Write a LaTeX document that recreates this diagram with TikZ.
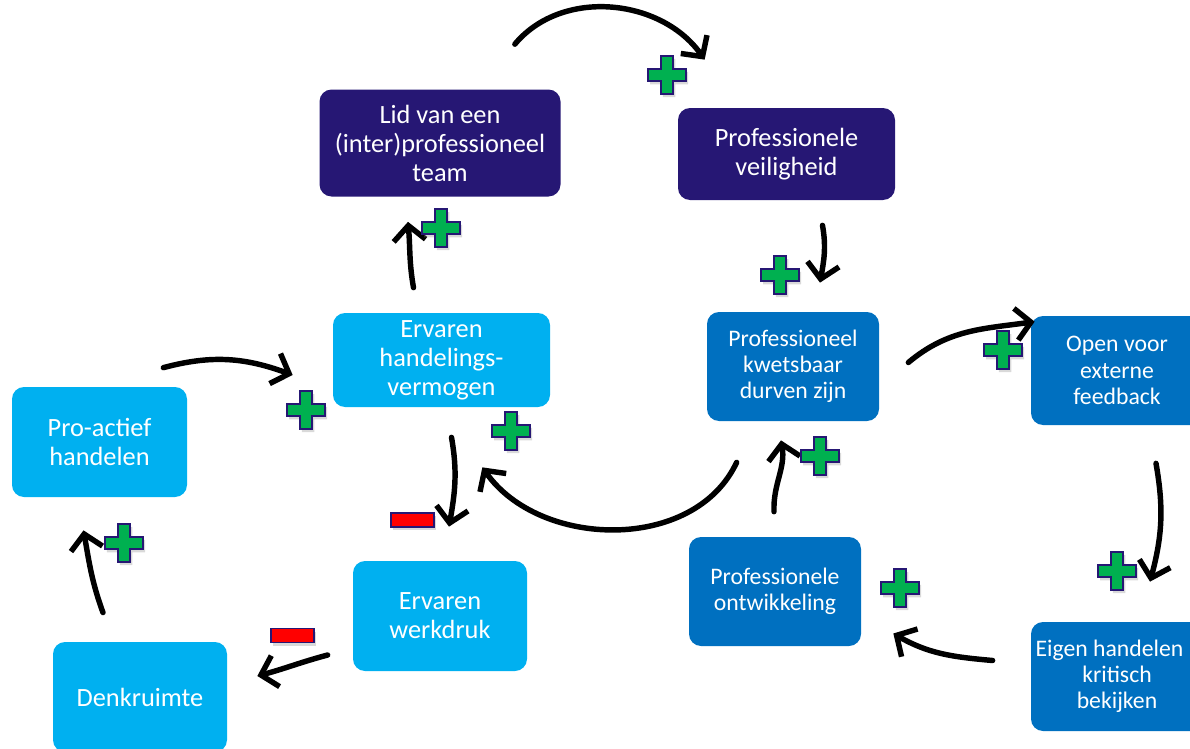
\documentclass[tikz,border=0pt]{standalone}
\usepackage{fontspec}
\setmainfont{Carlito}
\usetikzlibrary{arrows.meta,shadows}
\definecolor{donker}{RGB}{38,23,116}
\definecolor{licht}{RGB}{0,176,240}
\definecolor{midden}{RGB}{0,112,192}
\definecolor{groen}{RGB}{0,176,80}
\newcommand{\groot}{\fontsize{15}{16.5}\selectfont}
\newcommand{\klein}{\fontsize{13.5}{14.9}\selectfont}
\tikzset{
  plusje/.pic={
    \draw[fill=groen,draw=donker,line width=0.9pt,
      drop shadow={opacity=0.3,shadow xshift=0.04,shadow yshift=-0.06}]
      (-0.125,-0.38) -- (0.125,-0.38) -- (0.125,-0.125) -- (0.38,-0.125)
      -- (0.38,0.125) -- (0.125,0.125) -- (0.125,0.38) -- (-0.125,0.38)
      -- (-0.125,0.125) -- (-0.38,0.125) -- (-0.38,-0.125) -- (-0.125,-0.125) -- cycle;
  },
  minnetje/.pic={
    \draw[fill=red,draw=donker,line width=0.9pt,
      drop shadow={opacity=0.3,shadow xshift=0.04,shadow yshift=-0.06}]
      (-0.43,-0.14) rectangle (0.43,0.14);
  }
}

\begin{document}
\begin{tikzpicture}
  \useasboundingbox (0,0) rectangle (23.8,-14.98);
  \clip (0,0) rectangle (23.8,-14.98);

  \begin{scope}[every node/.style={rounded corners=0.24cm,text=white,align=center,inner sep=0pt}]
    \node[fill=donker,minimum width=4.82cm,minimum height=2.14cm,font=\groot]
      (lid) at (8.8,-2.86) {Lid van een\\(inter)professioneel\\team};
    \node[fill=donker,minimum width=4.34cm,minimum height=1.84cm,font=\groot]
      (veilig) at (15.73,-3.08) {Professionele\\veiligheid};
    \node[fill=licht,minimum width=4.34cm,minimum height=1.88cm,font=\groot]
      (vermogen) at (8.83,-7.2) {Ervaren\\handelings-\\vermogen};
    \node[fill=midden,minimum width=3.44cm,minimum height=2.18cm,font=\klein]
      (kwetsbaar) at (15.86,-7.33) {Professioneel\\kwetsbaar\\durven zijn};
    \node[fill=midden,minimum width=3.44cm,minimum height=2.18cm,font=\klein]
      (openfb) at (22.34,-7.41) {Open voor\\externe\\feedback};
    \node[fill=licht,minimum width=3.5cm,minimum height=2.2cm,font=\groot]
      (proactief) at (1.99,-8.84) {Pro-actief\\handelen};
    \node[fill=licht,minimum width=3.48cm,minimum height=2.2cm,font=\groot]
      (werkdruk) at (8.8,-12.32) {Ervaren\\werkdruk};
    \node[fill=licht,minimum width=3.48cm,minimum height=2.2cm,font=\groot]
      (denkruimte) at (2.8,-13.94) {Denkruimte};
    \node[fill=midden,minimum width=3.44cm,minimum height=2.18cm,font=\klein]
      (ontwikkeling) at (15.5,-11.83) {Professionele\\ontwikkeling};
    \node[fill=midden,minimum width=3.44cm,minimum height=2.18cm,font=\klein]
      (eigen) at (22.34,-13.53) {\hspace*{-0.3cm}Eigen handelen\\kritisch\\bekijken};
  \end{scope}

  \begin{scope}[>={Straight Barb[length=3mm,width=6.4mm]},
      pijl/.style={->,line width=3.1pt,line cap=round}]
    \draw[pijl] ([shift={(-0.92,0.9)}]lid.north east) to[out=50,in=125]
      ([shift={(0.54,0.96)}]veilig.north west);
    \draw[pijl] ([shift={(0.72,-0.5)}]veilig.south) to[out=-80,in=80]
      ([shift={(0.54,0.58)}]kwetsbaar.north);
    \draw[pijl] ([shift={(-0.56,0.5)}]vermogen.north) to[out=100,in=-85]
      ([shift={(-0.64,-0.5)}]lid.south);
    \draw[pijl] ([shift={(-0.48,0.38)}]proactief.north east) to[out=15,in=160]
      ([shift={(-0.8,-0.3)}]vermogen.west);
    \draw[pijl] ([shift={(0.2,-0.6)}]vermogen.south) to[out=-80,in=80]
      ([shift={(0.18,0.68)}]werkdruk.north);
    \draw[pijl] ([shift={(0.6,-0.82)}]kwetsbaar.south west) to[out=-115,in=-55]
      ([shift={(-1.36,-1.2)}]vermogen.south east);
    \draw[pijl] ([shift={(-0.02,0.5)}]ontwikkeling.north) to[out=92,in=-80]
      ([shift={(-0.24,-0.38)}]kwetsbaar.south);
    \draw[pijl] ([shift={(0.58,0.08)}]kwetsbaar.east) to[out=40,in=188]
      ([shift={(0.08,-0.12)}]openfb.north west);
    \draw[pijl] ([shift={(0.78,-0.76)}]openfb.south) to[out=-80,in=75]
      ([shift={(0.66,0.8)}]eigen.north);
    \draw[pijl] ([shift={(-0.76,0.32)}]eigen.west) to[out=175,in=-30]
      ([shift={(0.64,-0.84)}]ontwikkeling.east);
    \draw[pijl] ([shift={(-0.5,-0.78)}]werkdruk.west) to[out=195,in=15]
      ([shift={(0.6,0.42)}]denkruimte.east);
    \draw[pijl] ([shift={(-0.74,0.58)}]denkruimte.north) to[out=110,in=-80]
      ([shift={(-0.32,-0.66)}]proactief.south);
  \end{scope}

  % plus en min tekens
  \pic at (13.34,-1.5) {plusje};
  \pic at (8.82,-4.56) {plusje};
  \pic at (15.6,-5.5) {plusje};
  \pic at (6.12,-8.2) {plusje};
  \pic at (10.22,-8.62) {plusje};
  \pic at (20.06,-7.0) {plusje};
  \pic at (16.4,-9.12) {plusje};
  \pic at (2.48,-10.86) {plusje};
  \pic at (18.0,-11.76) {plusje};
  \pic at (22.34,-11.42) {plusje};
  \pic at (8.25,-10.4) {minnetje};
  \pic at (5.85,-12.71) {minnetje};
\end{tikzpicture}
\end{document}
